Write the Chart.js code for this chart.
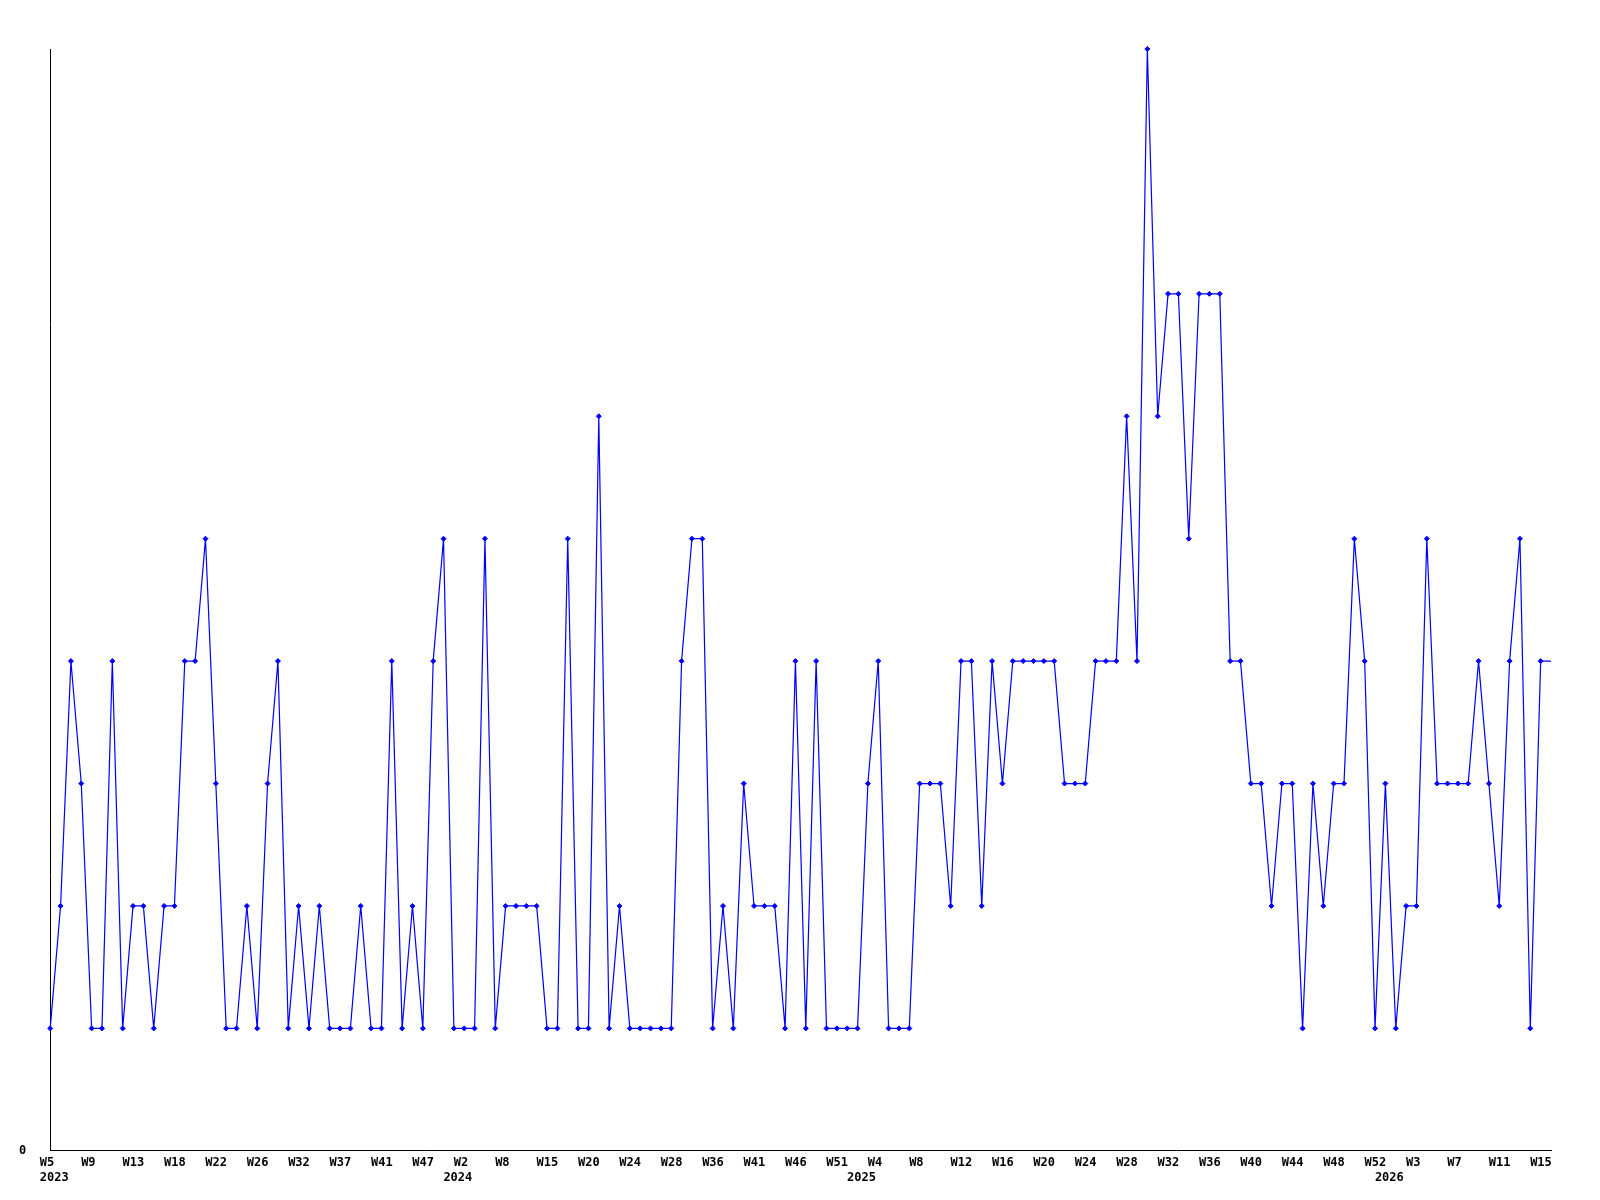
<!DOCTYPE html>
<html><head><meta charset="utf-8">
<script src="https://cdn.jsdelivr.net/npm/chart.js@4"></script>
<style>html,body{margin:0;padding:0;background:#fff}canvas{display:block}</style>
</head><body>
<canvas id="c" width="1600" height="1200"></canvas>
<script>
// ---- data ----
const years = ['2023', '2024', '2025', '2026'];
const weeks2023 = [5,6,7,8,9,10,11,12,13,14,15,17,18,19,20,21,22,23,24,25,26,27,29,30,32,33,34,36,37,38,39,40,41,42,44,45,47,49,51];
const weeks2024 = [1,2,3,5,6,8,10,12,13,15,16,17,19,20,21,22,23,24,25,26,27,28,30,32,34,36,37,38,40,41,42,43,45,46,47,48,50,51,53];
const weeks2025 = [0,2,4,5,6,7,8,9,10,11,12,13,14,15,16,17,18,19,20,21,22,23,24,25,26,27,28,29,30,31,32,33,34,35,36,37,38,39,40,41,42,43,44,45,46,47,48,49,50,51,52];
const weeks2026 = [0,1,2,3,4,5,6,7,8,9,10,11,12,13,14,15,16];
const values = [
  1,2,4,3,1,1,4,1,2,2,1,2,2,4,4,5,3,1,1,2,1,3,4,1,2,
  1,2,1,1,1,2,1,1,4,1,2,1,4,5,1,1,1,5,1,2,2,2,2,1,1,
  5,1,1,6,1,2,1,1,1,1,1,4,5,5,1,2,1,3,2,2,2,1,4,1,4,
  1,1,1,1,3,4,1,1,1,3,3,3,2,4,4,2,4,3,4,4,4,4,4,3,
  3,3,4,4,4,6,4,9,6,7,7,5,7,7,7,4,4,3,3,2,3,3,1,3,2,
  3,3,5,4,1,3,1,2,2,5,3,3,3,3,4,3,2,4,5,1,4,4
];
const yTickValues = [0];
const labelEvery = 4;

// ---- build categories ----
const categories = [], catWeek = [], catYear = [], yearStart = new Set();
[weeks2023, weeks2024, weeks2025, weeks2026].forEach((list, yi) => {
  list.forEach((w, j) => {
    if (j === 0) yearStart.add(categories.length);
    categories.push(years[yi] + '-W' + w);
    catWeek.push('W' + w);
    catYear.push(years[yi]);
  });
});

Chart.defaults.font = { family: '"DejaVu Sans Mono", monospace', size: 12, weight: 'bold', lineHeight: 1.3 };
Chart.defaults.color = '#000';

new Chart(document.getElementById('c'), {
  type: 'line',
  data: {
    labels: categories,
    datasets: [{
      data: values,
      borderColor: '#0000ff',
      backgroundColor: '#0000ff',
      borderWidth: 1.2,
      tension: 0,
      fill: false,
      pointStyle: 'rectRot',
      pointRadius: ctx => ctx.dataIndex === values.length - 1 ? 0 : 2.5,
      pointBorderWidth: 1,
      pointBorderColor: '#0000ff',
      pointBackgroundColor: '#0000ff',
      clip: false
    }]
  },
  options: {
    responsive: false,
    animation: false,
    layout: { padding: { top: 49, left: 19, right: 49, bottom: 10 } },
    plugins: { legend: { display: false }, tooltip: { enabled: false } },
    scales: {
      x: {
        type: 'category',
        offset: false,
        grid: { display: false, drawTicks: false },
        border: { display: true, color: '#000', width: 1 },
        afterBuildTicks: axis => {
          axis.ticks = axis.ticks.filter(t => t.value % labelEvery === 0 || yearStart.has(t.value));
        },
        ticks: {
          autoSkip: false,
          maxRotation: 0,
          minRotation: 0,
          align: 'start',
          labelOffset: -10.5,
          padding: 4,
          callback: v => [v % labelEvery === 0 ? catWeek[v] : '', yearStart.has(v) ? catYear[v] : '']
        }
      },
      y: {
        min: 0,
        max: 9,
        grid: { display: false, drawTicks: false },
        border: { display: true, color: '#000', width: 1 },
        afterBuildTicks: axis => { axis.ticks = yTickValues.map(v => ({ value: v })); },
        ticks: { crossAlign: 'far', padding: 12, callback: v => String(v) }
      }
    }
  }
});
</script>
</body></html>
